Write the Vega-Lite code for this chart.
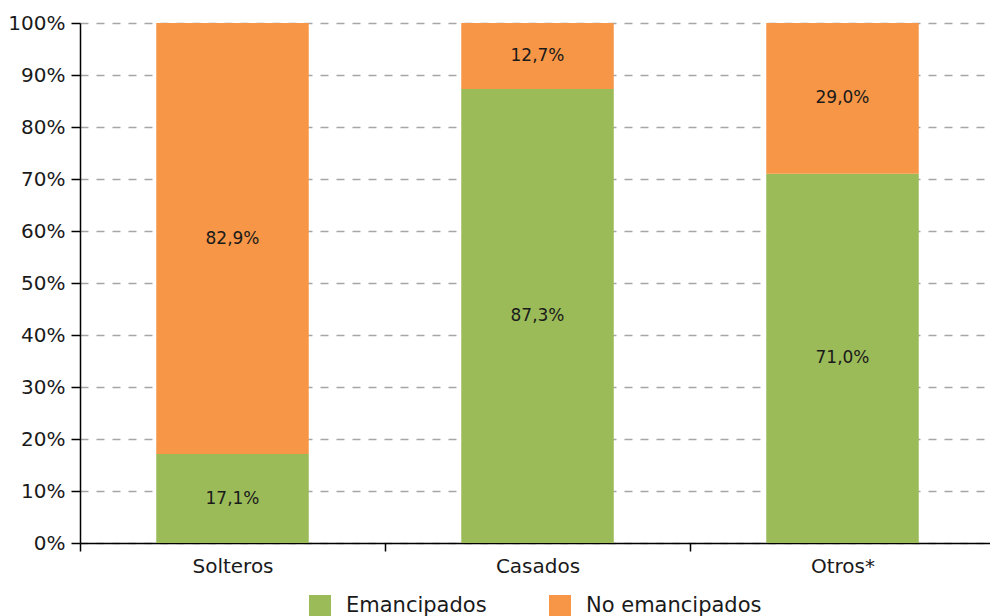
{
  "$schema": "https://vega.github.io/schema/vega-lite/v6.json",
  "width": 915,
  "height": 520,
  "autosize": {"type": "none"},
  "padding": {"left": 80, "top": 23, "right": 0, "bottom": 73},
  "config": {
    "font": "DejaVu Sans",
    "view": {"stroke": null},
    "locale": {"number": {"decimal": ",", "thousands": ".", "grouping": [3], "currency": ["", " €"]}},
    "axisY": {
      "title": null,
      "format": ".0%",
      "values": [0, 0.1, 0.2, 0.3, 0.4, 0.5, 0.6, 0.7, 0.8, 0.9, 1],
      "labelFontSize": 20,
      "labelColor": "#1a1a1a",
      "labelPadding": 6,
      "labelOverlap": false,
      "labelFlush": false,
      "tickSize": 9,
      "tickColor": "#000",
      "tickWidth": 1.5,
      "domainColor": "#000",
      "domainWidth": 1.5,
      "grid": true,
      "gridColor": "#a6a6a6",
      "gridDash": [8, 8],
      "gridWidth": 1.5
    }
  },
  "data": {
    "values": [
      {"grupo": "Solteros", "situacion": "Emancipados", "orden": 0, "valor": 0.171},
      {"grupo": "Solteros", "situacion": "No emancipados", "orden": 1, "valor": 0.829},
      {"grupo": "Casados", "situacion": "Emancipados", "orden": 0, "valor": 0.873},
      {"grupo": "Casados", "situacion": "No emancipados", "orden": 1, "valor": 0.127},
      {"grupo": "Otros*", "situacion": "Emancipados", "orden": 0, "valor": 0.71},
      {"grupo": "Otros*", "situacion": "No emancipados", "orden": 1, "valor": 0.29}
    ]
  },
  "transform": [
    {"stack": "valor", "groupby": ["grupo"], "sort": [{"field": "orden", "order": "ascending"}], "as": ["v0", "v1"]},
    {"calculate": "(datum.v0 + datum.v1) / 2", "as": "vmid"}
  ],
  "encoding": {
    "x": {
      "field": "grupo",
      "type": "nominal",
      "sort": ["Solteros", "Casados", "Otros*"],
      "scale": {"paddingInner": 0, "paddingOuter": 0},
      "axis": {
        "title": null,
        "labelAngle": 0,
        "labelFontSize": 20,
        "labelColor": "#1a1a1a",
        "labelPadding": 5,
        "tickBand": "extent",
        "tickSize": 8,
        "tickColor": "#000",
        "domainColor": "#000",
        "domainWidth": 1.5,
        "tickWidth": 1.5
      }
    }
  },
  "layer": [
    {
      "mark": {"type": "bar", "width": {"band": 0.5}},
      "encoding": {
        "y": {
          "field": "v0",
          "type": "quantitative",
          "scale": {"domain": [0, 1], "nice": false}
        },
        "y2": {"field": "v1"},
        "color": {
          "field": "situacion",
          "type": "nominal",
          "scale": {"domain": ["Emancipados", "No emancipados"], "range": ["#9BBB59", "#F79646"]},
          "legend": {
            "title": null,
            "orient": "none",
            "legendX": 229,
            "legendY": 572,
            "direction": "horizontal",
            "padding": 0,
            "symbolType": "square",
            "symbolSize": 484,
            "symbolStrokeWidth": 0,
            "symbolOpacity": 1,
            "labelFontSize": 21,
            "labelColor": "#1a1a1a",
            "labelLimit": 400,
            "labelOffset": 15,
            "columnPadding": 62
          }
        }
      }
    },
    {
      "mark": {"type": "text", "fontSize": 17, "color": "#1a1a1a", "baseline": "middle"},
      "encoding": {
        "y": {"field": "vmid", "type": "quantitative"},
        "text": {"field": "valor", "type": "quantitative", "format": ".1%"}
      }
    }
  ]
}
